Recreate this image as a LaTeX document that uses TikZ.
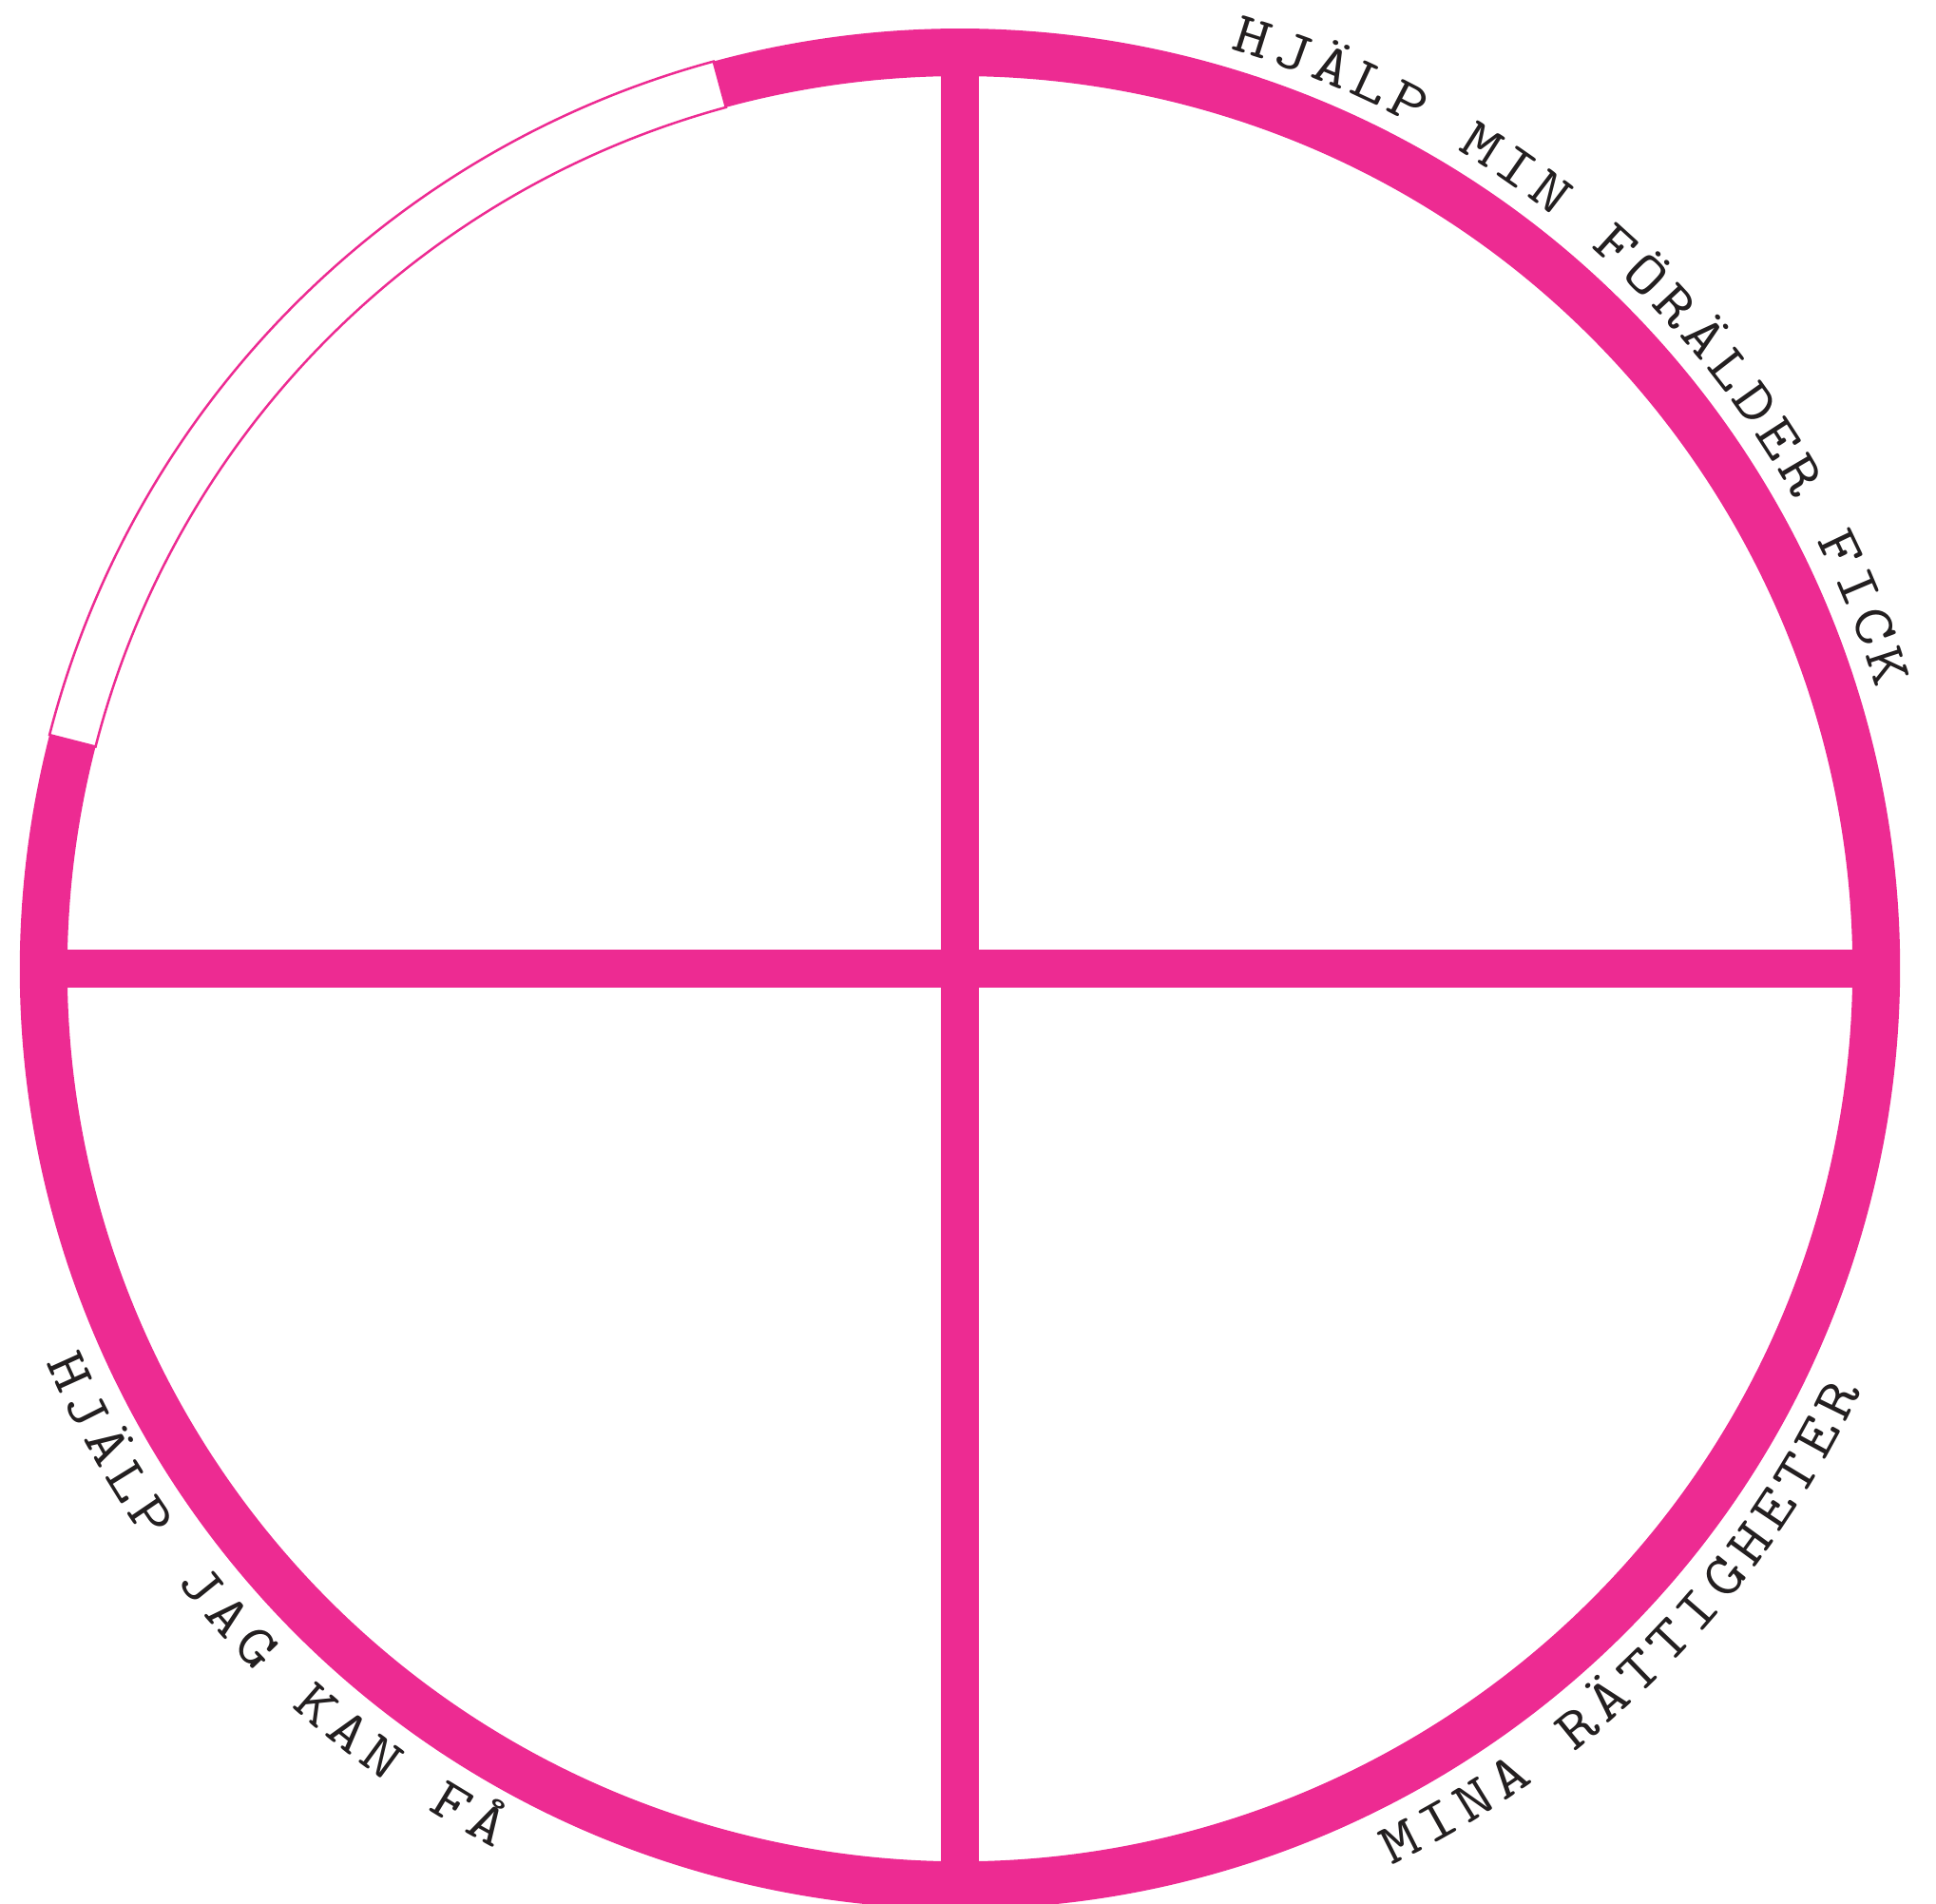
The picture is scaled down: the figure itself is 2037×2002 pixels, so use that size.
\documentclass[tikz,border=0pt]{standalone}
\usepackage{fontspec}
\usetikzlibrary{decorations.text}
\newfontfamily\labelfont[FakeStretch=1.2]{Latin Modern Mono}
\definecolor{ringpink}{RGB}{237,43,146}
\definecolor{labelink}{RGB}{35,31,32}
\begin{document}
\begin{tikzpicture}[x=0.01cm,y=0.01cm,
  ringline/.style={draw=ringpink,line width=0.5cm},
  barline/.style={draw=ringpink,line width=0.4cm},
  gapline/.style={draw=ringpink,line width=0.025cm},
  arclabel/.style={decorate,decoration={text along path,
      text={|\labelfont\fontsize{17.5pt}{20pt}\selectfont|#1},
      text align={fit to path},text color=labelink}}
]
\useasboundingbox (-1010,-983) rectangle (1027,1019);
\coordinate (c) at (0,0);
\coordinate (top) at (90:964);
\coordinate (bottom) at (270:964);
\coordinate (left) at (180:964);
\coordinate (right) at (0:964);
% cross bars
\draw[barline] (top) -- (bottom);
\draw[barline] (left) -- (right);
% ring with gap
\draw[ringline] (165.6:964) arc[start angle=165.6, end angle=465.2, radius=964];
\draw[gapline] (105.2:989) arc[start angle=105.2,end angle=165.6,radius=989]
  -- (165.6:939) arc[start angle=165.6,end angle=105.2,radius=939] -- cycle;
% labels
\path[arclabel={HJÄLP MIN FÖRÄLDER FICK}] (73.6:1008) arc[start angle=73.6,end angle=17.0,radius=1008];
\path[arclabel={HJÄLP JAG KAN FÅ}] (203.3:1047) arc[start angle=203.3,end angle=242.15,radius=1047];
\path[arclabel={MINA RÄTTIGHETER}] (-64.25:1047) arc[start angle=-64.25,end angle=-25.15,radius=1047];
\end{tikzpicture}
\end{document}
